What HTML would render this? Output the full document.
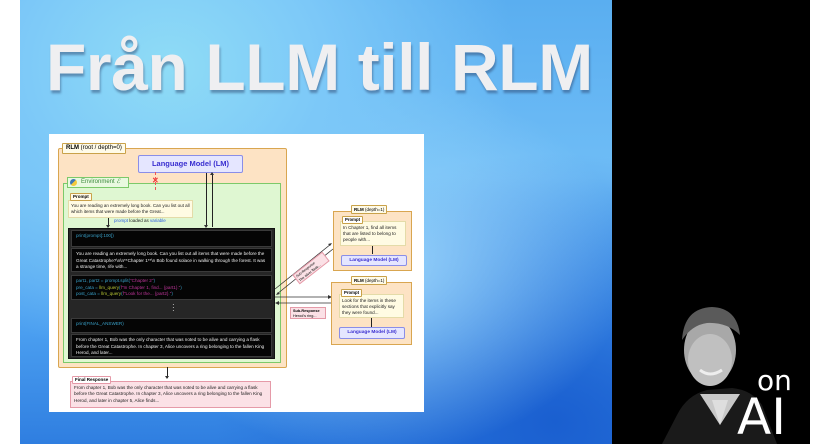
<!DOCTYPE html>
<html><head><meta charset="utf-8"><style>
*{margin:0;padding:0;box-sizing:border-box}
body{width:828px;height:444px;overflow:hidden;position:relative;background:#fff;font-family:"Liberation Sans",sans-serif}
.a{position:absolute}
.bg{left:20px;top:0;width:594px;height:444px;background:radial-gradient(ellipse at 25% 15%,#8fdcf6 0%,#7cc8f8 25%,transparent 55%),radial-gradient(ellipse at 60% 60%,#9ad4fb 0%,transparent 50%),radial-gradient(ellipse at 90% 95%,#1a5fd0 0%,transparent 45%),linear-gradient(180deg,#5aaef0 0%,#6fbdf6 40%,#4a9ef0 75%,#2f7ee0 100%)}
.blk{left:612px;top:0;width:198px;height:444px;background:#000}
.title{left:46px;top:29px;font-size:66px;font-weight:bold;color:#efeff1;text-shadow:1px 3px 2px rgba(40,60,100,.45);white-space:nowrap;letter-spacing:-0.4px}
.t{font-size:5px;line-height:6.5px;color:#222}
.tab{position:absolute;background:#fffbe8;border:1px solid #c9a24a;font-size:5px;font-weight:bold;padding:0 2px;line-height:7px;border-radius:1px}
.cell{position:absolute;background:#050505;border:1px solid #3a3a3a;font-size:4.6px;line-height:6.5px;color:#eee;padding:2px 4px}
.lm{position:absolute;background:#e5e6ff;border:1px solid #8a8ee8;color:#3a2fd0;font-weight:bold;text-align:center;border-radius:2px}
.ln{position:absolute;background:#222}
</style></head><body>
<div class="a bg"></div>
<div class="a blk"></div>
<div class="a title">Från LLM till RLM</div>

<!-- person -->
<svg class="a" style="left:612px;top:290px" width="198" height="154">
<path d="M50 154 L65 125 Q75 105 95 100 L120 98 Q140 100 150 115 L165 154Z" fill="#1a1a1a"/>
<path d="M88 104 L108 135 L128 104Z" fill="#c8c8c8"/>
<path d="M100 110 L108 135 L116 110Z" fill="#dedede"/>
<ellipse cx="98" cy="60" rx="26" ry="34" fill="#a8a8a8"/>
<path d="M70 50 Q72 18 100 17 Q125 18 128 45 Q115 32 95 33 Q80 35 70 50Z" fill="#5a5a5a"/>
<ellipse cx="98" cy="70" rx="22" ry="26" fill="#c0c0c0"/>
<path d="M88 80 Q98 88 110 80" stroke="#eee" stroke-width="3" fill="none"/>
</svg>
<div class="a" style="left:757px;top:364px;font-size:28px;color:#fff;font-family:'DejaVu Sans',sans-serif">on</div>
<div class="a" style="left:737px;top:392px;font-size:50px;line-height:50px;color:#fff;font-family:'DejaVu Sans',sans-serif">AI</div>

<!-- diagram panel -->
<div class="a" style="left:49px;top:134px;width:375px;height:278px;background:#fff"></div>
<div class="a" style="left:58px;top:148px;width:229px;height:220px;background:#fde3c4;border:1.5px solid #d9a650;border-radius:2px"></div>
<div class="tab" style="left:62px;top:143px;font-size:6px;line-height:9px;padding:0 3px">RLM <span style="font-weight:normal">(root / depth=0)</span></div>
<div class="lm" style="left:138px;top:155px;width:105px;height:18px;font-size:7.5px;line-height:16px">Language Model (LM)</div>
<div class="a" style="left:63px;top:183px;width:218px;height:180px;background:#dff7d2;border:1.5px solid #7cc96a"></div>
<div class="a" style="left:67px;top:177px;width:62px;height:11px;background:#e9f9e0;border:1px solid #7cc96a;font-size:6px;line-height:9px;color:#3b8a3b;padding-left:13px">Environment <i>ℰ</i></div>
<div class="a" style="left:70px;top:179px;width:7px;height:7px;border-radius:50%;background:linear-gradient(135deg,#3f78b5 50%,#f3c93a 50%)"></div>
<div class="a" style="left:152px;top:176px;color:#e33;font-size:8px;font-weight:bold">✕</div>
<div class="a" style="left:155px;top:172px;width:0;height:18px;border-left:1px dashed #e55"></div>
<div class="ln" style="left:206px;top:173px;width:1px;height:54px"></div>
<div class="ln" style="left:212px;top:173px;width:1px;height:54px"></div>

<div class="a t" style="left:68px;top:200px;width:125px;height:18px;background:#fffbe3;border:1px solid #e4dba8;padding:2px 2px;font-size:4.5px;line-height:6px">You are reading an extremely long book. Can you list out all which items that were made before the Great...</div>
<div class="tab" style="left:70px;top:193px;font-size:4.5px;line-height:6px">Prompt</div>
<div class="ln" style="left:108px;top:218px;width:1px;height:9px"></div>
<div class="a" style="left:114px;top:218px;font-size:4.5px;color:#222"><span style="color:#2b5ce0">prompt</span> loaded as <span style="color:#2b5ce0">variable</span></div>

<div class="a" style="left:68px;top:228px;width:207px;height:131px;background:#262626;border:1px solid #111"></div>
<div class="cell" style="left:71px;top:230px;width:201px;height:17px;color:#39a0c8">print(prompt[:100])</div>
<div class="cell" style="left:71px;top:248px;width:201px;height:24px">You are reading an extremely long book. Can you list out all items that were made before the Great Catastrophe?\n\n**Chapter 1**\n Bob found solace in walking through the forest. It was a strange time, rife with...</div>
<div class="cell" style="left:71px;top:275px;width:201px;height:25px;color:#39a0c8">part1, part2 = prompt.split(<span style="color:#c0359b">"Chapter 2"</span>)<br>pre_cata = <span style="color:#b7c634">llm_query</span>(<span style="color:#c0359b">f"In Chapter 1, find... {part1}."</span>)<br>post_cata = <span style="color:#b7c634">llm_query</span>(<span style="color:#c0359b">f"Look for the... {part2}."</span>)</div>
<div class="a" style="left:172px;top:303px;color:#ddd;font-size:8px;line-height:3px">·<br>·<br>·</div>
<div class="cell" style="left:71px;top:318px;width:201px;height:15px;color:#39a0c8">print(FINAL_ANSWER)</div>
<div class="cell" style="left:71px;top:334px;width:201px;height:23px">From chapter 1, Bob was the only character that was noted to be alive and carrying a flask before the Great Catastrophe. In chapter 3, Alice uncovers a ring belonging to the fallen King Herod, and later...</div>

<div class="ln" style="left:167px;top:367px;width:1px;height:11px"></div>
<div class="a t" style="left:70px;top:381px;width:201px;height:27px;background:#fbe1e6;border:1px solid #e59aa8;padding:3px 3px;font-size:4.6px;line-height:6.3px">From chapter 1, Bob was the only character that was noted to be alive and carrying a flask before the Great Catastrophe. In chapter 3, Alice uncovers a ring belonging to the fallen King Herod, and later in chapter 5, Alice finds...</div>
<div class="tab" style="left:72px;top:376px;background:#fff;border-color:#e59aa8;font-size:4.5px;line-height:6px">Final Response</div>

<!-- connectors -->
<svg class="a" style="left:0;top:0" width="828" height="444">
<g stroke="#333" stroke-width="0.8" fill="none">
<line x1="275" y1="289" x2="331" y2="244"/>
<line x1="333" y1="249" x2="277" y2="294"/>
<line x1="275" y1="297" x2="330" y2="297"/>
<line x1="332" y1="303" x2="277" y2="303"/>
</g>
<g fill="#333">
<path d="M332 243 l-4 1 l2 2z"/><path d="M276 295 l4 -1 l-2 -2z"/>
<path d="M332 297 l-4 -2 v4z"/><path d="M275 303 l4 -2 v4z"/>
<path d="M206 228 l-2 -3 h4z"/><path d="M212 172 l-2 3 h4z"/><path d="M108 228 l-2 -3 h4z"/><path d="M167 379 l-2 -3 h4z"/>
</g>
</svg>
<div class="a" style="left:292px;top:262px;width:38px;height:12px;background:#fbe1e6;border:1px solid #e59aa8;transform:rotate(-38deg);font-size:3.5px;line-height:4.5px;padding:1px">Sub-Response<br>The silver flask...</div>
<div class="a" style="left:290px;top:307px;width:36px;height:12px;background:#fbe1e6;border:1px solid #e59aa8;font-size:3.8px;line-height:5px;padding:1px 2px"><b>Sub-Response</b><br>Herod's ring...</div>

<!-- depth 1 boxes -->
<div class="a" style="left:333px;top:211px;width:79px;height:60px;background:#fde3c4;border:1.2px solid #d9a650"></div>
<div class="tab" style="left:351px;top:205px;font-size:4.5px;line-height:7px">RLM <span style="font-weight:normal">(depth=1)</span></div>
<div class="a t" style="left:340px;top:221px;width:66px;height:25px;background:#fffbe3;border:1px solid #e4dba8;padding:3px 2px 0;font-size:4.6px;line-height:6px">In Chapter 1, find all items that are listed to belong to people with...</div>
<div class="tab" style="left:342px;top:216px;font-size:4.3px;line-height:6px;background:#fff">Prompt</div>
<div class="ln" style="left:372px;top:246px;width:1px;height:8px"></div>
<div class="lm" style="left:341px;top:255px;width:66px;height:11px;font-size:4.8px;line-height:9px">Language Model (LM)</div>

<div class="a" style="left:331px;top:282px;width:81px;height:63px;background:#fde3c4;border:1.2px solid #d9a650"></div>
<div class="tab" style="left:351px;top:276px;font-size:4.5px;line-height:7px">RLM <span style="font-weight:normal">(depth=1)</span></div>
<div class="a t" style="left:339px;top:294px;width:65px;height:24px;background:#fffbe3;border:1px solid #e4dba8;padding:3px 2px 0;font-size:4.6px;line-height:6px">Look for the items in these sections that explicitly say they were found...</div>
<div class="tab" style="left:341px;top:289px;font-size:4.3px;line-height:6px;background:#fff">Prompt</div>
<div class="ln" style="left:371px;top:318px;width:1px;height:9px"></div>
<div class="lm" style="left:339px;top:327px;width:66px;height:12px;font-size:4.8px;line-height:10px">Language Model (LM)</div>
</body></html>
